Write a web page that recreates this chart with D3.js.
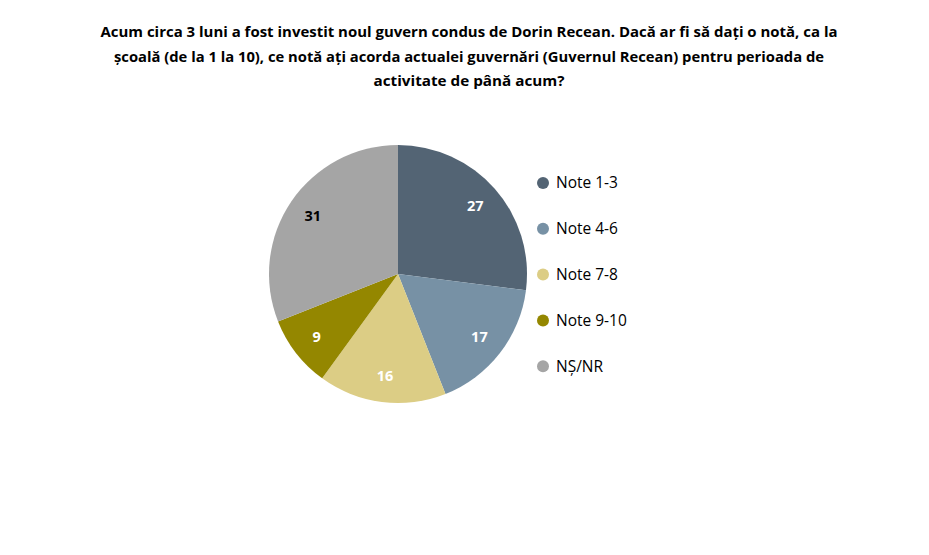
<!DOCTYPE html>
<html>
<head>
<meta charset="utf-8">
<script src="https://cdn.jsdelivr.net/npm/d3@7"></script>
<style>
  body { margin: 0; background: #ffffff; }
  svg { display: block; font-family: "Open Sans", "Noto Sans", sans-serif; }
</style>
</head>
<body>
<svg id="chart" width="929" height="555"></svg>
<script>
// survey data
const categories = ["Note 1-3", "Note 4-6", "Note 7-8", "Note 9-10", "NȘ/NR"];
const values = [27, 17, 16, 9, 31];
const colors = ["#536474", "#7791a5", "#dccd85", "#948700", "#a5a5a5"];
const labelColors = ["#ffffff", "#ffffff", "#ffffff", "#ffffff", "#000000"];
const titleLines = [
    "Acum circa 3 luni a fost investit noul guvern condus de Dorin Recean. Dacă ar fi să dați o notă, ca la",
    "școală (de la 1 la 10), ce notă ați acorda actualei guvernări (Guvernul Recean) pentru perioada de",
    "activitate de până acum?"
];

const svg = d3.select("#chart");
const cx = 398, cy = 274, radius = 129;

// title
svg.append("g")
    .selectAll("text")
    .data(titleLines)
    .enter()
    .append("text")
    .attr("x", 469)
    .attr("y", (d, i) => 37 + i * 24.5)
    .attr("text-anchor", "middle")
    .attr("font-size", 14.5)
    .attr("font-weight", "bold")
    .attr("fill", "#000")
    .attr("textLength", (d, i) => [737, 710, 191][i])
    .attr("lengthAdjust", "spacingAndGlyphs")
    .text(d => d);

const data = categories.map((c, i) => ({name: c, value: values[i], color: colors[i], label: labelColors[i]}));

const pie = d3.pie().sort(null).value(d => d.value);
const arc = d3.arc().innerRadius(0).outerRadius(radius);
const labelArc = d3.arc().innerRadius(103).outerRadius(103);

const g = svg.append("g").attr("transform", "translate(" + cx + "," + cy + ")");

g.selectAll("path")
    .data(pie(data))
    .enter()
    .append("path")
    .attr("d", arc)
    .attr("fill", d => d.data.color);

g.selectAll("text")
    .data(pie(data))
    .enter()
    .append("text")
    .attr("transform", d => "translate(" + labelArc.centroid(d) + ")")
    .attr("text-anchor", "middle")
    .attr("dy", "0.35em")
    .attr("font-size", 14.5)
    .attr("font-weight", "bold")
    .attr("fill", d => d.data.label)
    .text(d => d.data.value);

// legend
const legend = svg.append("g")
    .selectAll("g")
    .data(data)
    .enter()
    .append("g")
    .attr("transform", (d, i) => "translate(543," + (183 + i * 45.8) + ")");

legend.append("circle")
    .attr("r", 6)
    .attr("fill", d => d.color);

legend.append("text")
    .attr("x", 13)
    .attr("dy", "0.35em")
    .attr("font-size", 15.5)
    .attr("fill", "#000")
    .text(d => d.name);
</script>
</body>
</html>
